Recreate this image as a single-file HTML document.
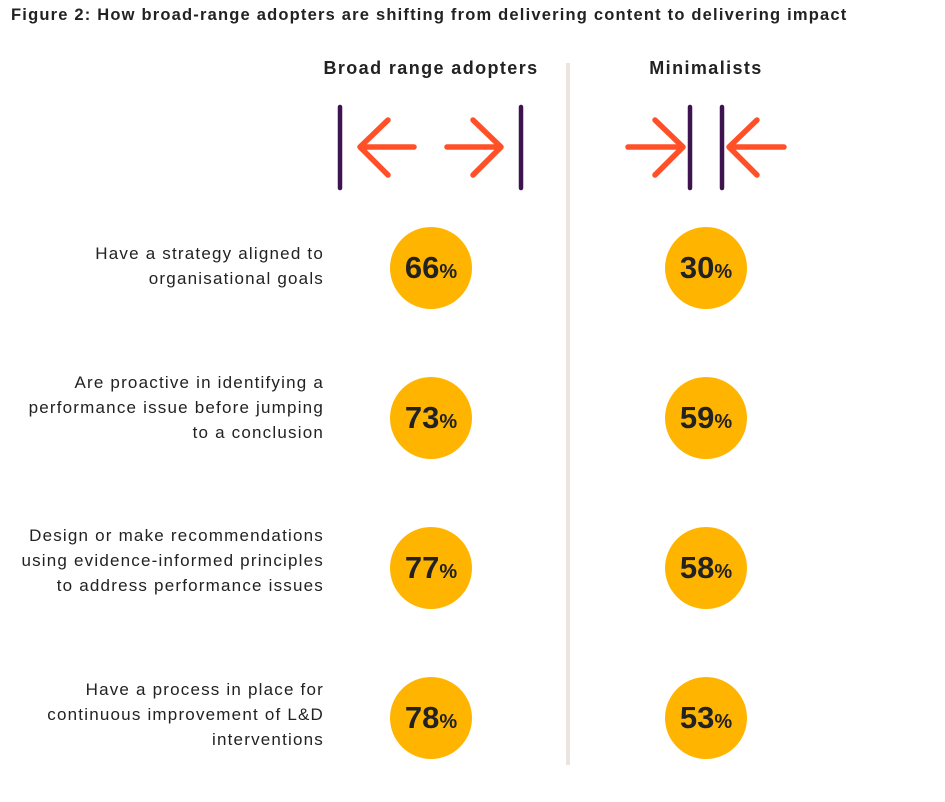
<!DOCTYPE html><html><head><style>
body{margin:0;width:945px;height:802px;background:#fff;font-family:"Liberation Sans",sans-serif;color:#222;position:relative;overflow:hidden}
.t{position:absolute;left:11px;top:6px;font-size:16.5px;font-weight:bold;letter-spacing:1.2px}
.h{position:absolute;top:58px;font-size:18px;font-weight:bold;text-align:center;width:300px;letter-spacing:1.4px}
.l{position:absolute;right:621px;text-align:right;font-size:17px;line-height:25px;color:#222;letter-spacing:1.2px}
.c{position:absolute;width:82px;height:82px;border-radius:50%;background:#ffb500;text-align:center;line-height:82px;font-size:31px;font-weight:bold;color:#222;letter-spacing:0px}
.c span{font-size:20px;letter-spacing:0}
</style></head><body>
<div class="t">Figure 2: How broad-range adopters are shifting from delivering content to delivering impact</div>
<div class="h" style="left:281px">Broad range adopters</div>
<div class="h" style="left:556px">Minimalists</div>
<div style="position:absolute;left:566px;top:63px;width:4px;height:702px;background:#ece4df"></div>
<svg width="945" height="200" style="position:absolute;left:0;top:0" fill="none" stroke-linecap="round" stroke-linejoin="round">
<g stroke="#3d1350" stroke-width="4.5"><line x1="340" y1="107" x2="340" y2="188"/><line x1="521" y1="107" x2="521" y2="188"/><line x1="690" y1="107" x2="690" y2="188"/><line x1="722" y1="107" x2="722" y2="188"/></g>
<g stroke="#ff5028" stroke-width="5.5">
<path d="M414 147H360M388 120L360 147L388 175"/>
<path d="M447 147H501M473 120L501 147L473 175"/>
<path d="M628 147H683M655 120L683 147L655 175"/>
<path d="M784 147H729M757 120L729 147L757 175"/>
</g></svg>
<div class="l" style="top:241px">Have a strategy aligned to<br>organisational goals</div>
<div class="l" style="top:370px">Are proactive in identifying a<br>performance issue before jumping<br>to a conclusion</div>
<div class="l" style="top:523px">Design or make recommendations<br>using evidence-informed principles<br>to address performance issues</div>
<div class="l" style="top:677px">Have a process in place for<br>continuous improvement of L&amp;D<br>interventions</div>
<div class="c" style="left:390px;top:227px">66<span>%</span></div>
<div class="c" style="left:665px;top:227px">30<span>%</span></div>
<div class="c" style="left:390px;top:377px">73<span>%</span></div>
<div class="c" style="left:665px;top:377px">59<span>%</span></div>
<div class="c" style="left:390px;top:527px">77<span>%</span></div>
<div class="c" style="left:665px;top:527px">58<span>%</span></div>
<div class="c" style="left:390px;top:677px">78<span>%</span></div>
<div class="c" style="left:665px;top:677px">53<span>%</span></div>
</body></html>
